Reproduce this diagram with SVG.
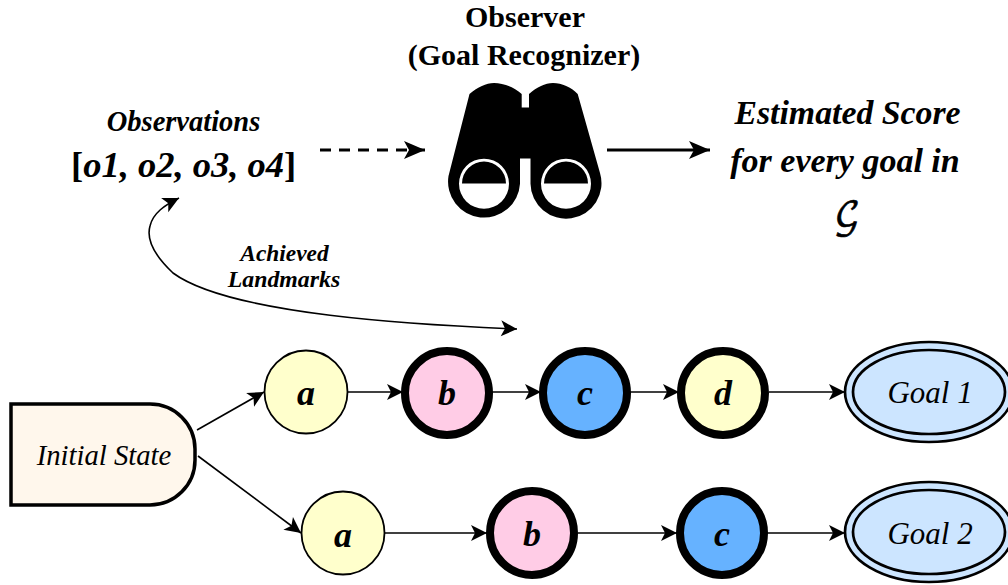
<svg xmlns="http://www.w3.org/2000/svg" width="1008" height="585" viewBox="0 0 1008 585">
<style>
text{font-family:"Liberation Serif","Times New Roman",serif;fill:#000;text-anchor:middle}
.bi{font-style:italic;font-weight:bold}
.i{font-style:italic}
.c{stroke:#000;stroke-width:1.6;fill:none}
.y{fill:#FFFFCC}.p{fill:#FFCCE6}.b{fill:#66B2FF}
.thin{stroke:#000;stroke-width:1.8}
.thick{stroke:#000;stroke-width:8}
.g{fill:#CCE5FF;stroke:#000;stroke-width:2.700}
.n{font-size:36px;font-style:italic;font-weight:bold}
.gl{font-size:31px;font-style:italic}
</style>
<defs>
<marker id="h" markerUnits="userSpaceOnUse" viewBox="0 0 18 20" markerWidth="18" markerHeight="20" refX="17" refY="10" orient="auto-start-reverse"><path d="M1 2L17 10L1 18L5 10Z" fill="#000"/></marker>
<marker id="hb" markerUnits="userSpaceOnUse" viewBox="0 0 24 22" markerWidth="24" markerHeight="22" refX="23" refY="11" orient="auto"><path d="M2 2L23 11L2 20L7 11Z" fill="#000"/></marker>
</defs>
<g id="connectors">
<path class="c" marker-end="url(#h)" d="M197 430L264 392"/>
<path class="c" marker-end="url(#h)" d="M198 456L301 533"/>
<path class="c" marker-end="url(#h)" d="M348 392H403"/>
<path class="c" marker-end="url(#h)" d="M492 392H541"/>
<path class="c" marker-end="url(#h)" d="M630 392H679"/>
<path class="c" marker-end="url(#h)" d="M769 392H845"/>
<path class="c" marker-end="url(#h)" d="M385 533H487"/>
<path class="c" marker-end="url(#h)" d="M578 533H677"/>
<path class="c" marker-end="url(#h)" d="M767 533H845"/>
<path class="c" marker-start="url(#h)" marker-end="url(#h)" d="M517 329C420 325 230 315 173 273C155 256 146 240 150 226C153 213 165 205 179 198"/>
<path stroke="#000" stroke-width="3" fill="none" stroke-dasharray="11 8" marker-end="url(#hb)" d="M320 150H425"/>
<path stroke="#000" stroke-width="3" fill="none" marker-end="url(#hb)" d="M607 150H710"/>
</g>
<g id="observer-label">
<text x="525" y="27" font-size="30" font-weight="bold">Observer</text>
<text x="524" y="65" font-size="30" font-weight="bold">(Goal Recognizer)</text>
</g>
<g id="binoculars">
<path fill="#000" fill-rule="evenodd" d="M469.500 94C478 87 486 83 494 83C503 83 514 87 521.700 94V107.500H529V94C537 87 545 83 553 83C562 83 571 87 577.700 94L600 173A35.500 35.500 0 1 1 530.500 183.700V158.500H520V183.700A36 36 0 1 1 448.500 176Z"/>
<path fill="#fff" fill-rule="evenodd" d="M459 183.700A25 25 0 1 1 509 183.700A25 25 0 1 1 459 183.700ZM462 183.500H506A22 22 0 0 0 462 183.500Z"/>
<path fill="#fff" fill-rule="evenodd" d="M541 183.700A25 25 0 1 1 591 183.700A25 25 0 1 1 541 183.700ZM544 183.500H588A22 22 0 0 0 544 183.500Z"/>
</g>
<g id="observations">
<text class="bi" x="183.500" y="131" font-size="28.500">Observations</text>
<text x="183.500" y="177" font-size="36.500" font-weight="bold">[<tspan font-style="italic">o1, o2, o3, o4</tspan>]</text>
</g>
<g id="score">
<text class="bi" x="847.500" y="124" font-size="33.800">Estimated Score</text>
<text class="bi" x="845" y="172" font-size="34">for every goal in</text>
<text x="847" y="227" font-size="35" stroke="#000" stroke-width="0.600" style="font-family:'DejaVu Math TeX Gyre','DejaVu Sans','Liberation Serif',serif">𝒢</text>
</g>
<g id="edge-label">
<text class="bi" x="284.500" y="261" font-size="23.400">Achieved</text>
<text class="bi" x="284" y="287" font-size="23.800">Landmarks</text>
</g>
<g id="initial-state">
<path d="M11 404H150A45 45 0 0 1 195 449V460A45 45 0 0 1 150 505H11Z" fill="#FFF7EC" stroke="#000" stroke-width="3.500"/>
<text class="i" x="104" y="465" font-size="28.700">Initial State</text>
</g>
<g id="n1"><circle class="y thin" cx="306" cy="392" r="41.500"/><text class="n" x="306" y="405">a</text></g>
<g id="n2"><circle class="p thick" cx="447" cy="393" r="42"/><text class="n" x="447" y="405">b</text></g>
<g id="n3"><circle class="b thick" cx="585" cy="393" r="42"/><text class="n" x="585" y="405">c</text></g>
<g id="n4"><circle class="y thick" cx="723" cy="393" r="42"/><text class="n" x="723" y="405">d</text></g>
<g id="n5"><circle class="y thin" cx="343" cy="533" r="41.500"/><text class="n" x="343" y="547">a</text></g>
<g id="n6"><circle class="p thick" cx="532" cy="533" r="42"/><text class="n" x="532" y="546">b</text></g>
<g id="n7"><circle class="b thick" cx="722" cy="533" r="42"/><text class="n" x="722" y="546">c</text></g>
<g id="goal1"><ellipse class="g" cx="929" cy="392" rx="84" ry="50"/><ellipse class="g" cx="929" cy="392" rx="76" ry="42"/><text class="gl" x="930" y="403">Goal 1</text></g>
<g id="goal2"><ellipse class="g" cx="929" cy="532" rx="84" ry="50"/><ellipse class="g" cx="929" cy="532" rx="76" ry="42"/><text class="gl" x="930" y="544">Goal 2</text></g>
</svg>
